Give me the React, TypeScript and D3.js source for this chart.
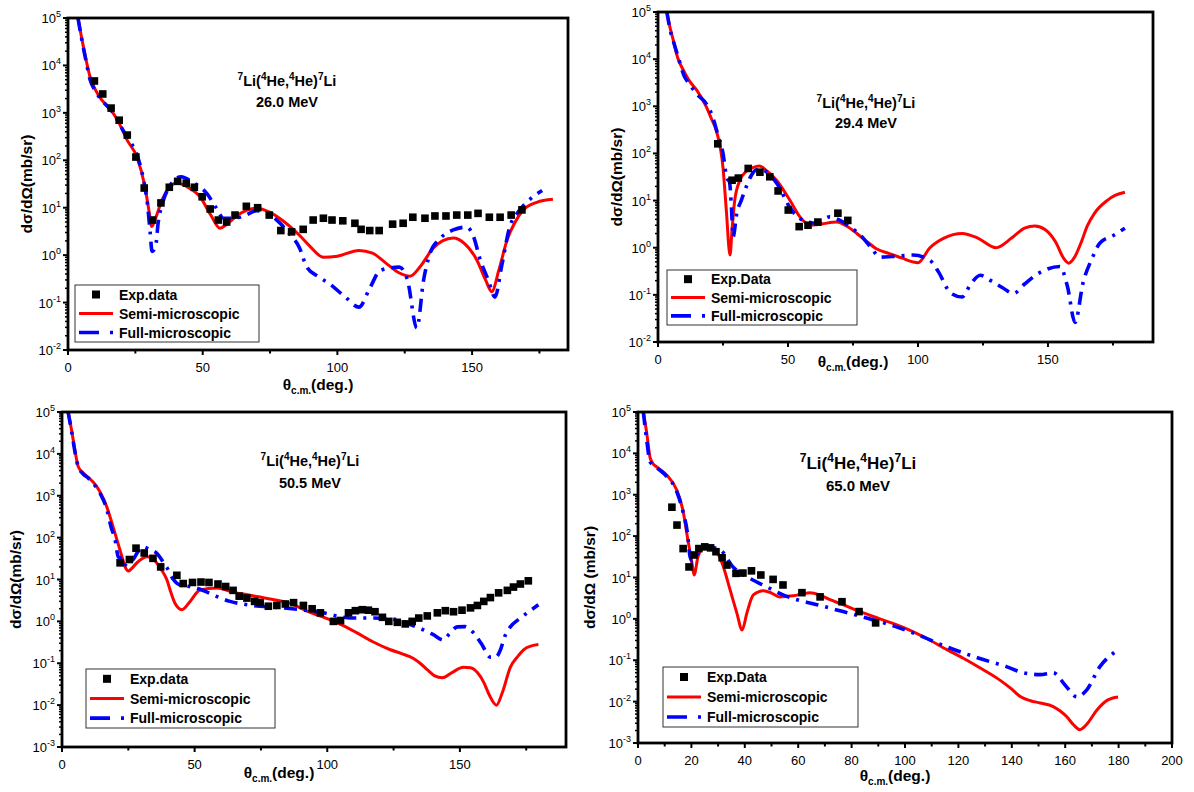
import React from 'react';
import * as d3 from 'd3';

type Pt = [number, number];

// ---- 26.0 MeV ----
const p1Exp: Pt[] = [
  [9.8, 4700], [12.9, 2500], [16, 1260], [19, 700], [22, 340], [25.2, 117], [28.3, 26], [31.4, 5.5],
  [34.5, 12.6], [37.6, 27], [40.7, 36], [43.9, 33], [46.9, 27], [49.8, 17], [52.8, 9.4], [55.8, 5.5],
  [58.9, 5], [62, 7], [66.2, 10.7], [70.4, 10], [74.7, 7], [79, 3.3], [83, 3.1], [87.3, 3.5],
  [91, 5.5], [94.8, 6], [98, 5.5], [102, 5.3], [106.5, 4.7], [108.8, 3.5], [112, 3.3], [115.5, 3.3],
  [120.5, 4.5], [124.4, 4.7], [128, 6.3], [132.5, 6], [136.2, 6.7], [140.3, 6.7], [144.3, 7],
  [148.4, 7], [152.2, 7.6], [156.4, 6.3], [160.4, 6.3], [164.5, 7], [168.5, 9],
];
const p1Semi: Pt[] = [
  [3.7, 1e5], [5, 4e4], [6.5, 1.5e4], [8.2, 5.7e3], [10, 3.2e3], [11.9, 2.1e3], [14, 1.5e3], [16.7, 1e3],
  [19, 600], [21.9, 270], [25.6, 117], [28.6, 27], [30, 9], [31.1, 4], [32.5, 6], [35, 15], [37.5, 26],
  [40.4, 33], [44, 28], [49, 17], [53, 7], [56.4, 3.7], [59, 4.5], [63, 7], [70, 9.8], [75, 8],
  [80, 5.2], [86, 2.6], [90, 1.5], [94.8, 0.9], [100, 0.95], [108, 1.26], [113, 1.1], [118, 0.68],
  [123, 0.42], [127, 0.36], [131, 0.6], [135.5, 1.4], [139, 2.0], [143, 2.3], [147, 1.8], [151.7, 0.8],
  [155, 0.3], [157.3, 0.17], [160, 0.5], [163, 2.1], [166, 5], [169, 8.9], [174, 13], [180, 15],
];
const p1Full: Pt[] = [
  [3.7, 1e5], [5, 3.8e4], [6.5, 1.4e4], [8.2, 5e3], [10, 3e3], [12, 2e3], [14, 1.5e3], [17, 950],
  [19, 600], [22, 300], [25.6, 130], [28, 40], [29.5, 12], [30.5, 3], [31.2, 1.2], [32.5, 1.5],
  [33.5, 5], [35, 12], [38, 30], [42, 45], [46, 35], [51.5, 20], [55, 10], [57.7, 6], [62, 6],
  [66, 7], [70, 8.7], [74, 7.5], [77.5, 5.5], [82, 2.9], [86, 1.4], [88.6, 0.56], [93, 0.35],
  [97, 0.25], [103, 0.13], [108, 0.08], [112, 0.2], [116, 0.48], [123, 0.56], [126, 0.3],
  [129.5, 0.029], [132, 0.3], [134.4, 1.1], [138, 2.2], [143, 3.4], [148, 3.9], [150.5, 2.5],
  [153, 0.8], [156, 0.3], [158.5, 0.13], [161, 0.6], [164, 4], [167, 8], [170, 12.6], [176, 23],
];

// ---- 29.4 MeV ----
const p2Exp: Pt[] = [
  [23, 160], [28.5, 27], [30.9, 30], [34.7, 48], [39.2, 40], [43, 32], [46.2, 16], [50.1, 6.3],
  [54.3, 2.8], [57.7, 3], [61.5, 3.5], [69.2, 5.4], [73, 3.8],
];
const p2Semi: Pt[] = [
  [3.4, 1e5], [4.5, 5e4], [5.9, 2.5e4], [7.5, 1.1e4], [9.7, 5.9e3], [12, 3.5e3], [14.9, 2.2e3],
  [18.7, 950], [20.5, 550], [22.7, 270], [25, 50], [26.3, 6], [27.7, 0.7], [28.5, 2.5], [29.5, 10],
  [31.5, 27], [34, 42], [36.5, 50], [39, 54], [42, 42], [45.6, 27], [50.8, 10], [54.6, 4.5],
  [58.5, 3], [63, 3.2], [68.8, 3.5], [72, 3], [76.5, 2], [80, 1.4], [84, 0.95], [89, 0.75],
  [94, 0.6], [98, 0.5], [100, 0.48], [104.6, 1.0], [110, 1.6], [117, 2.0], [123, 1.6], [130, 1.0],
  [136, 1.6], [141, 2.6], [145, 2.9], [149, 2.4], [153, 1.3], [156, 0.6], [158, 0.47], [160, 0.6],
  [163, 1.4], [165, 2.8], [168, 5.5], [172.7, 10], [176, 13], [179.6, 15],
];
const p2Full: Pt[] = [
  [3.4, 1e5], [5, 3.5e4], [6, 2.3e4], [8, 1e4], [10, 4.5e3], [12, 3e3], [15, 1.8e3], [18.7, 1.1e3],
  [21, 600], [23, 250], [25, 100], [26.5, 30], [27.5, 25], [28.2, 8], [28.9, 1.7], [30.3, 5.4],
  [32, 10], [34, 20], [36, 35], [38, 45], [40, 45], [43, 35], [46, 22], [50.8, 7], [55.8, 3.8],
  [61, 3.3], [66, 4.5], [70, 3.8], [73.8, 2.8], [78, 1.8], [82, 1.0], [85.4, 0.63], [90, 0.65],
  [98, 0.7], [104.6, 0.54], [108, 0.3], [112.5, 0.11], [117, 0.09], [120, 0.16], [124, 0.26],
  [128, 0.2], [132.7, 0.14], [136.7, 0.107], [141, 0.17], [147, 0.3], [154.6, 0.4], [157.5, 0.15],
  [160.4, 0.026], [163.5, 0.18], [167, 0.6], [170, 1.26], [175, 1.8], [179.6, 2.6],
];

// ---- 50.5 MeV ----
const p3Exp: Pt[] = [
  [21.9, 25], [25.4, 30], [27.9, 56], [31, 43], [34.3, 32], [37.2, 20], [43.3, 12.6], [45.7, 8],
  [49.2, 8.5], [52.4, 8.7], [55.4, 8.5], [58.8, 7.8], [61.7, 6.8], [64.5, 5.5], [66.8, 4],
  [69.7, 3.6], [72.6, 3.0], [74.7, 2.8], [77.8, 2.3], [81, 2.4], [84.2, 2.6], [87.3, 2.8],
  [91, 2.4], [94.3, 2], [97.4, 1.6], [102.3, 1.0], [105, 1.05], [108, 1.6], [110.6, 1.8],
  [113.2, 1.9], [115.5, 1.85], [118, 1.7], [120.8, 1.25], [123.2, 1.0], [126.4, 0.95], [129.4, 0.87],
  [132, 1.0], [134.5, 1.2], [137.7, 1.35], [141.5, 1.6], [144.5, 1.8], [147.6, 1.7], [150.8, 1.85],
  [154, 2.1], [156.6, 2.4], [159, 3], [161.5, 3.7], [164.6, 4.8], [167.9, 5.5], [170.2, 6.6],
  [172.8, 7.8], [175.8, 9.3],
];
const p3Semi: Pt[] = [
  [2.3, 1e5], [3.6, 3.7e4], [4.9, 1.2e4], [6.1, 5e3], [8, 3.5e3], [10, 2.7e3], [11.8, 2.1e3],
  [14.3, 1.25e3], [16.9, 540], [18.5, 260], [20, 126], [21.5, 60], [22.6, 35], [23.8, 20], [25, 16],
  [26.5, 19], [28.2, 25], [30, 31], [32, 35], [34, 32], [35.7, 25], [37.5, 17], [39.5, 10], [41, 5],
  [42.6, 2.7], [45.2, 1.9], [48.3, 3], [52, 5.6], [58.5, 6.3], [64.5, 5], [70, 4.3], [74.7, 3.8],
  [80, 3.3], [83.4, 3], [86, 2.7], [89.8, 2.1], [94, 1.6], [98.5, 1.26], [105, 0.85], [111, 0.54],
  [117, 0.33], [123.8, 0.21], [128, 0.17], [132.5, 0.13], [135, 0.1], [137.7, 0.07], [140.5, 0.05],
  [143.4, 0.045], [147, 0.06], [151.3, 0.08], [154, 0.078], [156.6, 0.06], [159, 0.035],
  [161, 0.018], [163.8, 0.01], [166, 0.02], [169, 0.08], [172, 0.15], [174, 0.21], [177, 0.26],
  [179.6, 0.28],
];
const p3Full: Pt[] = [
  [2.3, 1e5], [3.6, 3.5e4], [4.9, 1.1e4], [6.1, 5e3], [8, 3.3e3], [10, 2.6e3], [12, 1.9e3],
  [14.5, 1.1e3], [17, 450], [18.5, 180], [20, 90], [21.2, 35], [21.9, 33], [23, 20], [24.5, 25],
  [26.8, 30], [28.5, 45], [30.6, 60], [33, 52], [35.8, 42], [37.5, 30], [39.6, 19], [42, 10],
  [44.5, 7.4], [49.5, 6.6], [54.7, 5], [58, 4], [63.4, 3], [72, 2.4], [83.4, 2.1], [89.8, 1.9],
  [98.5, 1.6], [106, 1.26], [111, 1.2], [117.4, 1.2], [126.4, 1.1], [131, 0.85], [136.2, 0.63],
  [140, 0.48], [143.8, 0.36], [146, 0.5], [149, 0.74], [152, 0.75], [154, 0.63], [158, 0.3],
  [161.5, 0.14], [163.5, 0.14], [165.3, 0.21], [167, 0.45], [169, 0.74], [172, 1.1], [176, 1.7],
  [179.6, 2.5],
];

// ---- 65.0 MeV ----
const p4Exp: Pt[] = [
  [12.7, 500], [14.6, 185], [16.9, 50], [19.1, 18], [21, 35], [22.8, 50], [25, 55], [27.2, 52],
  [29.2, 42], [31.5, 30], [33.3, 20], [36.7, 12.6], [39.3, 12.8], [42.5, 14.5], [46, 11.5],
  [50.6, 9], [54.3, 6.6], [61.4, 4.3], [68.2, 3.4], [76.4, 2.6], [82.8, 1.5], [89, 0.8],
];
const p4Semi: Pt[] = [
  [2, 1e5], [3.3, 3e4], [4.5, 8e3], [5.5, 5.8e3], [7, 4.7e3], [10.7, 3e3], [14.5, 1.3e3],
  [16.8, 430], [18.7, 80], [20.2, 22], [21, 11.5], [22.5, 32], [25, 55], [28.2, 50], [30.5, 32],
  [32, 18], [34.5, 5], [37, 1.4], [39, 0.54], [40.8, 1.4], [43.2, 3.8], [47, 4.8], [50, 4.2],
  [53, 3.4], [58, 3.6], [64.4, 4.3], [68, 3.8], [71.9, 2.9], [76, 2.3], [82, 1.6], [90.6, 1.0],
  [100, 0.6], [108, 0.34], [115.7, 0.18], [122, 0.11], [128, 0.066], [135, 0.035],
  [140, 0.02], [143, 0.0135], [147, 0.0105], [150.6, 0.0093], [155.5, 0.0076], [158, 0.006],
  [160.6, 0.0043], [163, 0.0028], [165.5, 0.0021], [168, 0.0028], [171.9, 0.0063], [176, 0.011],
  [179.8, 0.013],
];
const p4Full: Pt[] = [
  [2, 1e5], [3.3, 2e4], [4.5, 6.3e3], [7, 4.5e3], [10.7, 2.8e3], [14.5, 1.2e3], [16.8, 400],
  [18.5, 120], [19.5, 32], [20.3, 25], [22, 35], [25.8, 55], [30.7, 47], [35.6, 18], [42, 9.5],
  [48.3, 5.9], [54.3, 3.8], [59.6, 2.9], [67, 2.2], [76.8, 1.5], [85.6, 1.05], [94.4, 0.72],
  [103, 0.46], [115.7, 0.21], [128, 0.11], [138, 0.07], [144.2, 0.05], [150.6, 0.045],
  [155.5, 0.05], [160, 0.025], [164.4, 0.013], [168, 0.019], [173, 0.07], [178.7, 0.16],
];

const titleLine2 = ['26.0 MeV', '29.4 MeV', '50.5 MeV', '65.0 MeV'];
const legendExp = ['Exp.data', 'Exp.Data', 'Exp.data', 'Exp.Data'];
const legendSemi = 'Semi-microscopic';
const legendFull = 'Full-microscopic';

const FONT = "'Liberation Sans', Arial, Helvetica, sans-serif";
const RED = '#ff0000';
const BLUE = '#0000ff';
const DASH = '13 7 3 7';

interface Cfg {
  left: number; top: number; right: number; bottom: number;
  xMax: number; xStep: number; yMin: number;
  exp: Pt[]; semi: Pt[]; full: Pt[];
  title: { x: number; y: number; size: number; size2: number; gap: number };
  line2: string;
  legend: { x: number; y: number; w: number; h: number; label: string };
  yLab: { x: number; text: string };
  xLab: { x: number; y: number };
}

const panels: Cfg[] = [
  {
    left: 68, top: 18, right: 568, bottom: 350, xMax: 185.6, xStep: 50, yMin: -2,
    exp: p1Exp, semi: p1Semi, full: p1Full,
    title: { x: 287, y: 86, size: 14.5, size2: 14.5, gap: 21 }, line2: titleLine2[0],
    legend: { x: 75, y: 285, w: 184, h: 57, label: legendExp[0] },
    yLab: { x: 27, text: 'dσ/dΩ(mb/sr)' }, xLab: { x: 318, y: 390 },
  },
  {
    left: 658, top: 12, right: 1153, bottom: 342, xMax: 190.4, xStep: 50, yMin: -2,
    exp: p2Exp, semi: p2Semi, full: p2Full,
    title: { x: 866, y: 108, size: 14.5, size2: 14.5, gap: 20 }, line2: titleLine2[1],
    legend: { x: 667, y: 270, w: 190, h: 55, label: legendExp[1] },
    yLab: { x: 617, text: 'dσ/dΩ(mb/sr)' }, xLab: { x: 853, y: 367 },
  },
  {
    left: 62, top: 412, right: 566, bottom: 747, xMax: 190, xStep: 50, yMin: -3,
    exp: p3Exp, semi: p3Semi, full: p3Full,
    title: { x: 310, y: 466, size: 14.5, size2: 14.5, gap: 22 }, line2: titleLine2[2],
    legend: { x: 86, y: 669, w: 189, h: 59, label: legendExp[2] },
    yLab: { x: 16, text: 'dσ/dΩ(mb/sr)' }, xLab: { x: 279, y: 778 },
  },
  {
    left: 638, top: 412, right: 1172, bottom: 743, xMax: 200, xStep: 20, yMin: -3,
    exp: p4Exp, semi: p4Semi, full: p4Full,
    title: { x: 858, y: 469, size: 17, size2: 15, gap: 22 }, line2: titleLine2[3],
    legend: { x: 663, y: 667, w: 195, h: 60, label: legendExp[3] },
    yLab: { x: 590, text: 'dσ/dΩ (mb/sr)' }, xLab: { x: 895, y: 781 },
  },
];

function Title({ t, line2 }: { t: Cfg['title']; line2: string }) {
  const sup = Math.round(t.size * 0.68);
  const up = -Math.round(t.size * 0.4);
  const parts: [string, boolean][] = [
    ['7', true], ['Li(', false], ['4', true], ['He,', false], ['4', true], ['He)', false], ['7', true], ['Li', false],
  ];
  return (
    <g fontFamily={FONT} fontWeight="bold" textAnchor="middle" fill="#000">
      <text x={t.x} y={t.y} fontSize={t.size}>
        {parts.map(([s, isSup], i) => (
          <tspan key={i} fontSize={isSup ? sup : t.size} dy={isSup ? up : i > 0 ? -up : 0}>{s}</tspan>
        ))}
      </text>
      <text x={t.x} y={t.y + t.gap} fontSize={t.size2}>{line2}</text>
    </g>
  );
}

function Panel({ cfg, idx }: { cfg: Cfg; idx: number }) {
  const { left, top, right, bottom } = cfg;
  const x = d3.scaleLinear().domain([0, cfg.xMax]).range([left, right]);
  const y = d3.scaleLog().domain([Math.pow(10, cfg.yMin), 1e5]).range([bottom, top]);
  const line = d3.line<Pt>().x((d) => x(d[0])).y((d) => y(Math.max(d[1], 1e-6))).curve(d3.curveMonotoneX);

  const majorX = d3.range(0, cfg.xMax + 0.01, cfg.xStep);
  const minorX = d3.range(cfg.xStep / 2, cfg.xMax, cfg.xStep);
  const exps = d3.range(cfg.yMin, 6);
  const minorY: number[] = [];
  exps.slice(0, -1).forEach((e) => {
    for (let k = 2; k < 10; k++) minorY.push(k * Math.pow(10, e));
  });
  const clipId = `clip${idx}`;
  const lg = cfg.legend;
  const rowH = lg.h / 3;
  const sx0 = lg.x + 4;
  const sx1 = lg.x + 38;
  const tx = lg.x + 44;
  const cy = (top + bottom) / 2;

  return (
    <g>
      <defs>
        <clipPath id={clipId}>
          <rect x={left} y={top} width={right - left} height={bottom - top} />
        </clipPath>
      </defs>

      {/* curves */}
      <g clipPath={`url(#${clipId})`}>
        <path d={line(cfg.semi) || ''} fill="none" stroke={RED} strokeWidth={3} />
        <path d={line(cfg.full) || ''} fill="none" stroke={BLUE} strokeWidth={3.6} strokeDasharray={DASH} />
        {cfg.exp.map((d, i) => (
          <rect key={i} x={x(d[0]) - 3.8} y={y(d[1]) - 3.8} width={7.6} height={7.6} fill="#000" />
        ))}
      </g>

      {/* frame */}
      <rect x={left} y={top} width={right - left} height={bottom - top} fill="none" stroke="#000" strokeWidth={2.8} />

      {/* x ticks */}
      {majorX.map((v) => (
        <g key={`mx${v}`}>
          <line x1={x(v)} x2={x(v)} y1={bottom} y2={bottom + 5} stroke="#000" strokeWidth={2} />
          <text x={x(v)} y={bottom + 22} fontFamily={FONT} fontSize={13} textAnchor="middle">{v}</text>
        </g>
      ))}
      {minorX.map((v) => (
        <line key={`nx${v}`} x1={x(v)} x2={x(v)} y1={bottom} y2={bottom + 3.5} stroke="#000" strokeWidth={2} />
      ))}

      {/* y ticks */}
      {exps.map((e) => (
        <g key={`my${e}`}>
          <line x1={left - 5} x2={left} y1={y(Math.pow(10, e))} y2={y(Math.pow(10, e))} stroke="#000" strokeWidth={2} />
          <text x={left - 7} y={y(Math.pow(10, e)) + 5} fontFamily={FONT} fontSize={13} textAnchor="end">
            10<tspan fontSize={9} dy={-6}>{e < 0 ? `-${-e}` : e}</tspan>
          </text>
        </g>
      ))}
      {minorY.map((v, i) => (
        <line key={`ny${i}`} x1={left - 3} x2={left} y1={y(v)} y2={y(v)} stroke="#000" strokeWidth={1.5} />
      ))}

      {/* axis titles */}
      <text
        transform={`translate(${cfg.yLab.x},${cy}) rotate(-90)`}
        dy="0.35em" textAnchor="middle" fontFamily={FONT} fontWeight="bold" fontSize={15.5}
      >
        {cfg.yLab.text}
      </text>
      <text x={cfg.xLab.x} y={cfg.xLab.y} textAnchor="middle" fontFamily={FONT} fontWeight="bold" fontSize={15.5}>
        θ<tspan fontSize={10} dy={4}>c.m.</tspan><tspan dy={-4}>(deg.)</tspan>
      </text>

      <Title t={cfg.title} line2={cfg.line2} />

      {/* legend */}
      <rect x={lg.x} y={lg.y} width={lg.w} height={lg.h} fill="#fff" stroke="#333" strokeWidth={1} />
      <rect x={(sx0 + sx1) / 2 - 4} y={lg.y + rowH * 0.5 - 4} width={8} height={8} fill="#000" />
      <line x1={sx0} x2={sx1} y1={lg.y + rowH * 1.5} y2={lg.y + rowH * 1.5} stroke={RED} strokeWidth={3} />
      <line x1={sx0} x2={sx1} y1={lg.y + rowH * 2.5} y2={lg.y + rowH * 2.5} stroke={BLUE} strokeWidth={3.6} strokeDasharray="20 11 3 30" />
      {[lg.label, legendSemi, legendFull].map((s, i) => (
        <text key={s} x={tx} y={lg.y + rowH * (i + 0.5) + 5} fontFamily={FONT} fontWeight="bold" fontSize={14}>{s}</text>
      ))}
    </g>
  );
}

export default function App() {
  return (
    <svg
      width={1194}
      height={792}
      style={{ position: 'absolute', left: 0, top: 0, background: '#fff' }}
    >
      <rect x={0} y={0} width={1194} height={792} fill="#fff" />
      {panels.map((p, i) => (
        <Panel key={i} cfg={p} idx={i} />
      ))}
    </svg>
  );
}
